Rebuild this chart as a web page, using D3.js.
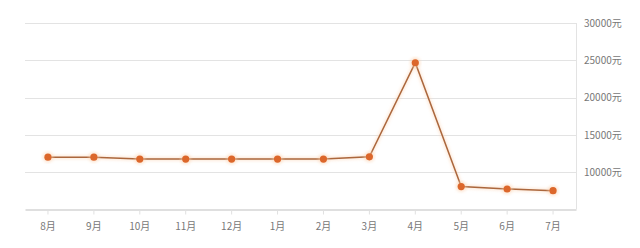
<!DOCTYPE html>
<html>
<head>
<meta charset="utf-8">
<script src="https://cdn.jsdelivr.net/npm/d3@7"></script>
<style>
  html, body { margin: 0; padding: 0; background: #fff; }
  svg text { font-family: "Noto Sans CJK SC", "Noto Sans", sans-serif; font-size: 10px; fill: #777; }
</style>
</head>
<body>
<svg id="chart" width="640" height="248"></svg>
<script>
// monthly price, yuan
var months = ['8月', '9月', '10月', '11月', '12月', '1月', '2月', '3月', '4月', '5月', '6月', '7月']
  , prices = [12000, 12000, 11750, 11750, 11750, 11750, 11750, 12050, 24700, 8050, 7730, 7500]
  , yTicks = [10000, 15000, 20000, 25000, 30000]

var svg = d3.select('#chart')
  , plotLeft = 25, plotRight = 576, plotTop = 23.3, plotBottom = 209.3

var x = d3.scaleBand().domain(months).range([plotLeft, plotRight])
  , y = d3.scaleLinear().domain([5000, 30000]).range([plotBottom, plotTop])
  , cx = function(d, i) { return x(months[i]) + x.bandwidth() / 2 }

// soft glow under the line
var defs = svg.append('defs')
defs.append('filter').attr('id', 'glow')
  .attr('x', '-10%').attr('y', '-10%').attr('width', '120%').attr('height', '120%')
  .append('feGaussianBlur').attr('stdDeviation', 1.5)

// horizontal grid
svg.append('g').selectAll('line').data(yTicks).enter().append('line')
  .attr('x1', plotLeft).attr('x2', plotRight)
  .attr('y1', function(d) { return Math.round(y(d)) + 0.5 })
  .attr('y2', function(d) { return Math.round(y(d)) + 0.5 })
  .attr('stroke', '#e3e3e3')

// right border
svg.append('line')
  .attr('x1', plotRight + 0.5).attr('x2', plotRight + 0.5)
  .attr('y1', Math.round(plotTop)).attr('y2', plotBottom)
  .attr('stroke', '#e3e3e3')

// x axis
var xAxis = svg.append('g').attr('transform', 'translate(0,' + (Math.round(plotBottom) + 0.5) + ')')
  .call(d3.axisBottom(x).tickSize(5).tickPadding(8).tickSizeOuter(0))
xAxis.select('.domain').attr('stroke', '#d4d4d4').attr('stroke-width', 1.5)
xAxis.selectAll('.tick line').attr('stroke', '#e0e0e0')
xAxis.selectAll('text').style('font-size', '10px').attr('fill', '#777')

// y axis labels on the right
var yAxis = svg.append('g').attr('transform', 'translate(' + plotRight + ',0)')
  .call(d3.axisRight(y).tickValues(yTicks)
    .tickSize(0).tickPadding(8).tickFormat(function(d) { return d + '元' }))
yAxis.select('.domain').remove()
yAxis.selectAll('text').attr('fill', '#777')

var line = d3.line().x(cx).y(function(d) { return y(d) })

svg.append('path').datum(prices)
  .attr('d', line).attr('fill', 'none')
  .attr('stroke', '#fbd6b8').attr('stroke-width', 4).attr('opacity', 0.5)
  .attr('filter', 'url(#glow)')

svg.append('path').datum(prices)
  .attr('d', line).attr('fill', 'none')
  .attr('stroke', '#ab673d').attr('stroke-width', 1.5)

svg.append('g').selectAll('circle.halo').data(prices).enter().append('circle')
  .attr('cx', cx).attr('cy', function(d) { return y(d) })
  .attr('r', 5.5).attr('fill', '#fbd2b0').attr('opacity', 0.5)
  .attr('filter', 'url(#glow)')

svg.append('g').selectAll('circle.dot').data(prices).enter().append('circle')
  .attr('cx', cx).attr('cy', function(d) { return y(d) })
  .attr('r', 3.6).attr('fill', '#dc672b')
</script>
</body>
</html>
